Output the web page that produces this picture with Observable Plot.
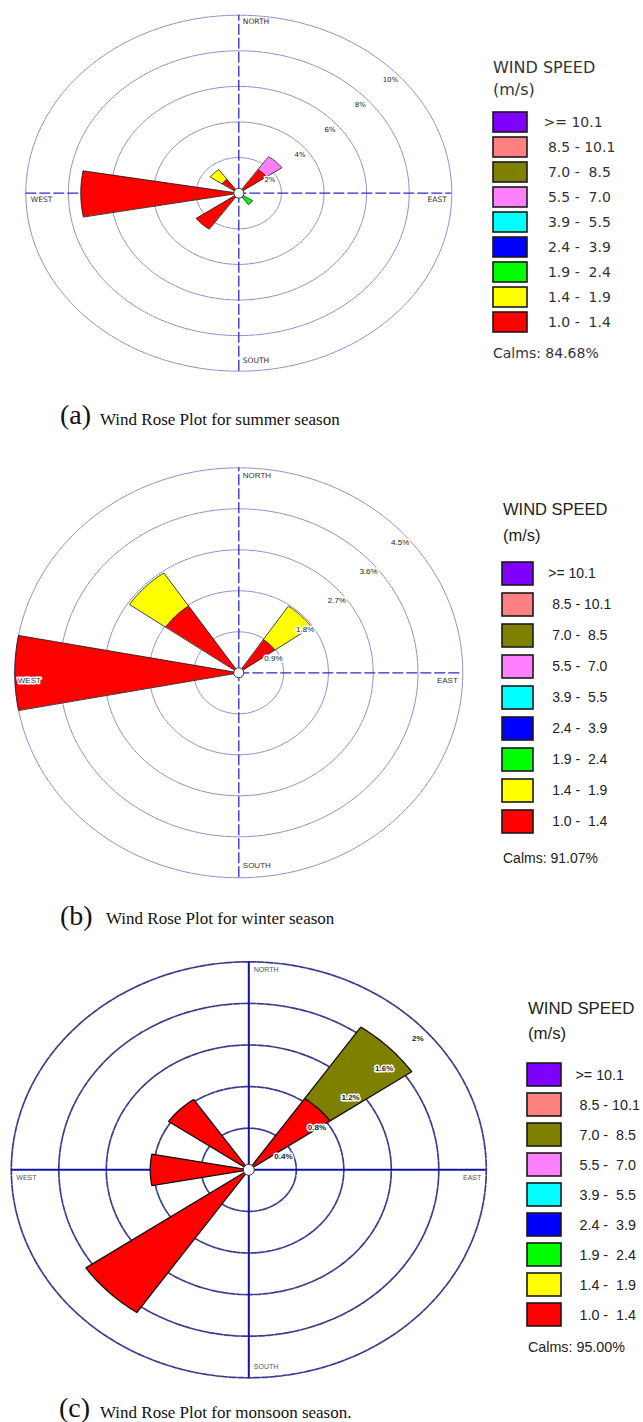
<!DOCTYPE html>
<html><head><meta charset="utf-8">
<script src="https://cdn.jsdelivr.net/npm/d3@7"></script>
<script src="https://cdn.jsdelivr.net/npm/@observablehq/plot@0.6"></script>
<style>
body{margin:0;background:#fff;}
#page{position:relative;width:643px;height:1422px;overflow:hidden;background:#fff;}
.abs{position:absolute;white-space:pre;line-height:1;}
</style></head><body><div id="page"></div>
<script>
// ---------- data ----------
const speedBins = [">= 10.1","8.5 - 10.1","7.0 -  8.5","5.5 -  7.0","3.9 -  5.5","2.4 -  3.9","1.9 -  2.4","1.4 -  1.9","1.0 -  1.4"];
const binColors = ["#8000ff","#ff8080","#808000","#ff80ff","#00ffff","#0000ff","#00ff00","#ffff00","#ff0000"];
const compassNames = ["N","NNE","NE","ENE","E","ESE","SE","SSE","S","SSW","SW","WSW","W","WNW","NW","NNW"];
const dirLabels = ["NORTH","EAST","SOUTH","WEST"];

// summer (percent of time, stacked from centre outward)
const summerDirs  = ["W",  "NE", "NW", "SW", "SE"];
const summer10_14 = [7.42, 1.60, 0.95, 2.45, 0.00];
const summer14_19 = [0,    0,    0.67, 0,    0   ];
const summer19_24 = [0,    0,    0,    0,    0.78];
const summer55_70 = [0,    0.88, 0,    0,    0   ];
const summerRings = [2, 4, 6, 8, 10];
const summerRingLabels = ["2%", "4%", "6%", "8%", "10%"];
const summerCalms = "Calms: 84.68%";

// winter
const winterDirs  = ["W",  "NW", "NE"];
const winter10_14 = [4.50, 1.78, 0.88];
const winter14_19 = [0,    0.88, 0.89];
const winterRings = [0.9, 1.8, 2.7, 3.6, 4.5];
const winterRingLabels = ["0.9%", "1.8%", "2.7%", "3.6%", "4.5%"];
const winterCalms = "Calms: 91.07%";

// monsoon
const monsoonDirs  = ["NE", "NW", "W",  "SW"];
const monsoon10_14 = [0.83, 0.82, 0.83, 1.665];
const monsoon70_85 = [0.835, 0,   0,    0];
const monsoonRings = [0.4, 0.8, 1.2, 1.6, 2.0];
const monsoonRingLabels = ["0.4%", "0.8%", "1.2%", "1.6%", "2%"];
const monsoonCalms = "Calms: 95.00%";

// ---------- helpers ----------
const rad = Math.PI / 180;
const compassDeg = n => compassNames.indexOf(n) * 22.5;

function petalPoints(dirs, layers, width) {
  const pts = [];
  dirs.forEach((dname, j) => {
    const phi = compassDeg(dname);
    let r0 = 0;
    layers.forEach(({bin, values}) => {
      const v = values[j];
      if (!(v > 0)) return;
      const r1 = r0 + v;
      const id = dname + "|" + bin;
      const angs = d3.range(-width / 2, width / 2 + 0.001, 1).map(d => (phi + d) * rad);
      angs.forEach(t => pts.push({id, bin, x: r1 * Math.sin(t), y: r1 * Math.cos(t)}));
      if (r0 > 0) angs.slice().reverse().forEach(t => pts.push({id, bin, x: r0 * Math.sin(t), y: r0 * Math.cos(t)}));
      else pts.push({id, bin, x: 0, y: 0});
      r0 = r1;
    });
  });
  return pts;
}
function ringPoints(rings) {
  return rings.flatMap(r => d3.range(0, 360, 2).map(a => ({ring: r, x: r * Math.sin(a * rad), y: r * Math.cos(a * rad)})));
}
const page = document.getElementById("page");
function addText(str, x, baseline, size, family, color, weight) {
  const d = document.createElement("div");
  d.className = "abs";
  d.textContent = str;
  d.style.left = x + "px";
  d.style.top = (baseline - 0.845 * size) + "px";
  d.style.fontSize = size + "px";
  d.style.fontFamily = family;
  d.style.color = color;
  if (weight) d.style.fontWeight = weight;
  page.appendChild(d);
}
function place(svg, left, top) {
  svg.style.position = "absolute";
  svg.style.left = left + "px";
  svg.style.top = top + "px";
  page.appendChild(svg);
}

function drawPanel(p) {
  const R = p.rings[p.rings.length - 1];
  const cyl = p.cy - p.top;
  const dirPos = dirLabels.map((t, i) => ({t, x: R * Math.sin(i * 90 * rad), y: R * Math.cos(i * 90 * rad)}));
  const dirMark = (i, o) => Plot.text([dirPos[i]], {
    x: "x", y: "y", text: "t", textAnchor: o.anchor, dx: o.dx, dy: o.dy,
    fontSize: p.dirSize, fontFamily: p.font, fill: p.dirColor,
    stroke: o.halo ? "white" : null, strokeWidth: o.halo ? 3 : null, paintOrder: "stroke"
  });
  const svg = Plot.plot({
    width: p.w, height: p.h, margin: 0,
    style: {background: "transparent", overflow: "visible", fontFamily: p.font},
    x: {domain: [-R, R], range: [p.cx - p.rx, p.cx + p.rx], axis: null},
    y: {domain: [-R, R], range: [cyl + p.ry, cyl - p.ry], axis: null},
    color: {domain: speedBins, range: binColors},
    marks: [
      Plot.line(ringPoints(p.rings), {x: "x", y: "y", z: "ring", curve: "linear-closed", ...p.ringStyle}),
      Plot.ruleX([0], {y1: -R, y2: R, ...p.axisStyle}),
      Plot.ruleY([0], {x1: -R, x2: R, ...p.axisStyle}),
      Plot.line(petalPoints(p.dirs, p.layers, p.petalWidth), {
        x: "x", y: "y", z: "id", fill: "bin", stroke: "#111", strokeWidth: p.petalStroke,
        curve: "linear-closed", strokeLinejoin: "miter"
      }),
      Plot.text(p.rings, {
        x: d => d * Math.SQRT1_2, y: d => d * Math.SQRT1_2, text: (d, i) => p.ringLabels[i],
        dx: p.rlDx, dy: p.rlDy, fontSize: p.rlSize, fontWeight: p.rlWeight, fontFamily: p.font,
        fill: "#222", stroke: "white", strokeWidth: p.rlHalo, paintOrder: "stroke"
      }),
      dirMark(0, p.dN), dirMark(1, p.dE), dirMark(2, p.dS), dirMark(3, p.dW),
      Plot.dot([0], {x: () => 0, y: () => 0, r: p.hole, fill: "white", stroke: "#333", strokeWidth: 1})
    ]
  });
  place(svg, 0, p.top);

  // legend
  const L = p.legLeft, W = 643 - L;
  const n = speedBins.length, step = p.swStep;
  const y0 = p.swC0 - step / 2 - p.top;
  const pad = 1 - p.swH / step;
  const leg = Plot.plot({
    width: W, height: p.h, margin: 0,
    style: {background: "transparent", overflow: "visible", whiteSpace: "pre"},
    x: {type: "band", domain: ["swatch"], range: [p.swX0 - L, p.swX1 - L], padding: 0, axis: null},
    y: {type: "band", domain: speedBins, range: [y0, y0 + n * step], paddingInner: pad, paddingOuter: pad / 2, axis: null},
    color: {domain: speedBins, range: binColors},
    marks: [
      Plot.cell(speedBins, {x: () => "swatch", y: d => d, fill: d => d, stroke: "#1a1a1a", strokeWidth: 1.6}),
      Plot.text(speedBins, {
        x: () => "swatch", y: d => d, text: (d, i) => (i ? " " : "") + d, textAnchor: "start",
        dx: p.labX - (p.swX0 + p.swX1) / 2, fontSize: p.labSize, fontFamily: p.labFont, fill: p.labColor
      })
    ]
  });
  place(leg, L, p.top);
  addText("WIND SPEED", p.titleX, p.titleB, p.titleSize, p.labFont, p.labColor);
  addText("(m/s)", p.titleX, p.mpsB, p.titleSize, p.labFont, p.labColor);
  addText(p.calms, p.titleX, p.calmsB, p.labSize, p.labFont, p.labColor);

  // caption
  addText(p.capLetter, p.capLX, p.capLB, 28, "'Liberation Serif', 'Times New Roman', serif", "#111");
  addText(p.capText, p.capTX, p.capTB, 17, "'Liberation Serif', 'Times New Roman', serif", "#111");
}

const thinRings = {stroke: "#6464b8", strokeWidth: 0.8, strokeDasharray: "1.3 1", fill: "none"};
const dashAxes = {stroke: "#2a2ac8", strokeWidth: 1.3, strokeDasharray: "11 3"};

drawPanel({
  top: 0, h: 395, w: 490, cx: 238.3, cy: 192.7, rx: 213, ry: 178,
  rings: summerRings, ringLabels: summerRingLabels,
  dirs: summerDirs,
  layers: [{bin: speedBins[8], values: summer10_14}, {bin: speedBins[7], values: summer14_19},
           {bin: speedBins[6], values: summer19_24}, {bin: speedBins[3], values: summer55_70}],
  petalWidth: 20.5, petalStroke: 0.8, hole: 5,
  ringStyle: thinRings, axisStyle: dashAxes,
  font: "'DejaVu Sans', sans-serif", dirSize: 7.5, dirColor: "#333",
  rlSize: 7, rlWeight: "normal", rlDx: 1, rlDy: 12, rlHalo: 2.5,
  dN: {anchor: "start", dx: 4, dy: 6}, dE: {anchor: "end", dx: -5, dy: 6},
  dS: {anchor: "start", dx: 4, dy: -11}, dW: {anchor: "start", dx: 5, dy: 6},
  legLeft: 480, swX0: 493, swX1: 527, swC0: 120, swStep: 25.4, swH: 20.5,
  labX: 543, labSize: 14, labFont: "'DejaVu Sans', sans-serif", labColor: "#333",
  titleX: 493, titleB: 74, mpsB: 95.5, titleSize: 16, calms: summerCalms, calmsB: 357.5,
  capLetter: "(a)", capLX: 60, capLB: 425, capText: "Wind Rose Plot for summer season", capTX: 100, capTB: 425
});

drawPanel({
  top: 455, h: 435, w: 490, cx: 238.3, cy: 672.3, rx: 224, ry: 205,
  rings: winterRings, ringLabels: winterRingLabels,
  dirs: winterDirs,
  layers: [{bin: speedBins[8], values: winter10_14}, {bin: speedBins[7], values: winter14_19}],
  petalWidth: 21, petalStroke: 0.8, hole: 5,
  ringStyle: thinRings, axisStyle: dashAxes,
  font: "'Liberation Sans', Arial, sans-serif", dirSize: 8, dirColor: "#333",
  rlSize: 8, rlWeight: "normal", rlDx: 3, rlDy: 15, rlHalo: 3,
  dN: {anchor: "start", dx: 4, dy: 8}, dE: {anchor: "end", dx: -5, dy: 8},
  dS: {anchor: "start", dx: 4, dy: -12}, dW: {anchor: "start", dx: 3, dy: 8, halo: true},
  legLeft: 480, swX0: 502, swX1: 533.5, swC0: 571.7, swStep: 31.43, swH: 23,
  labX: 548, labSize: 14, labFont: "'Liberation Sans', Arial, sans-serif", labColor: "#222",
  titleX: 503, titleB: 514.5, mpsB: 541, titleSize: 16.5, calms: winterCalms, calmsB: 863,
  capLetter: "(b)", capLX: 60, capLB: 926, capText: "Wind Rose Plot for winter season", capTX: 106, capTB: 924
});

drawPanel({
  top: 950, h: 440, w: 490, cx: 248.3, cy: 1169.3, rx: 237.5, ry: 208,
  rings: monsoonRings, ringLabels: monsoonRingLabels,
  dirs: monsoonDirs,
  layers: [{bin: speedBins[8], values: monsoon10_14}, {bin: speedBins[2], values: monsoon70_85}],
  petalWidth: 21, petalStroke: 1.3, hole: 5.5,
  ringStyle: {stroke: "#3c3c8c", strokeWidth: 1.7, strokeDasharray: "7 1.5", fill: "none"},
  axisStyle: {stroke: "#1414a0", strokeWidth: 2},
  font: "'Liberation Sans', Arial, sans-serif", dirSize: 7, dirColor: "#555",
  rlSize: 8, rlWeight: "bold", rlDx: 1, rlDy: 16, rlHalo: 3,
  dN: {anchor: "start", dx: 5, dy: 8}, dE: {anchor: "end", dx: -5, dy: 8},
  dS: {anchor: "start", dx: 5, dy: -11}, dW: {anchor: "start", dx: 5, dy: 8},
  legLeft: 490, swX0: 527, swX1: 561, swC0: 1071, swStep: 30.92, swH: 23.3,
  labX: 575, labSize: 14.3, labFont: "'Liberation Sans', Arial, sans-serif", labColor: "#222",
  titleX: 528, titleB: 1015, mpsB: 1040, titleSize: 16.8, calms: monsoonCalms, calmsB: 1352,
  capLetter: "(c)", capLX: 59, capLB: 1418, capText: "Wind Rose Plot for monsoon season.", capTX: 100, capTB: 1418
});
</script>
</body></html>
